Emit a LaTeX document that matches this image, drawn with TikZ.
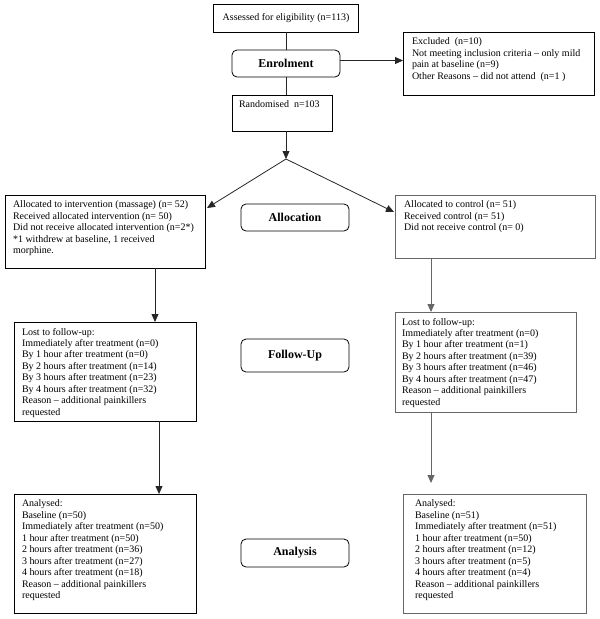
\documentclass[tikz,border=0pt]{standalone}
\usepackage{fontspec}
\setmainfont{Liberation Serif}
\usetikzlibrary{arrows.meta,calc}
\newcommand\bxt[3]{\parbox[c][#2pt][t]{#1pt}{\raggedright #3}}
\begin{document}
\begin{tikzpicture}[x=1pt,y=-1pt,
  every node/.style={font=\fontsize{10}{11.45}\selectfont},
  tbox/.style={draw, line width=0.8pt, anchor=north west, inner xsep=8pt, inner ysep=6pt, outer sep=0pt},
  gbox/.style={tbox, draw=black!60},
  stage/.style={draw, line width=0.8pt, rounded corners=5pt, font=\fontsize{12}{14}\selectfont\bfseries, inner sep=0pt, outer sep=0pt, minimum width=108pt},
  conn/.style={line width=0.8pt, draw=black!85},
  gconn/.style={line width=0.8pt, draw=black!60},
  tip/.style={-{Triangle[length=8pt,width=7pt]}}
]
\useasboundingbox (0,0) rectangle (600,619);

% enrolment
\node[tbox, anchor=center, inner sep=0pt, minimum width=145pt, minimum height=28pt] (assess) at (286,18) {Assessed for eligibility (n=113)};
\node[stage, minimum height=27pt] (enrol) at (286,63.5) {Enrolment};
\node[tbox, inner xsep=9pt] (excl) at (403,32) {\bxt{173}{51}{Excluded~ (n=10)\\Not meeting inclusion criteria -- only mild\\pain at baseline (n=9)\\Other Reasons -- did not attend~ (n=1 )}};
\node[tbox, inner xsep=7pt] (rand) at (232,95) {\bxt{86}{24}{Randomised~ n=103}};
\coordinate (apex) at (286,159);

% allocation
\node[tbox] (allocL) at (5,195) {\bxt{184}{61}{Allocated to intervention (massage) (n= 52)\\Received allocated intervention (n= 50)\\Did not receive allocated intervention (n=2*)\\{*}1 withdrew at baseline, 1 received\\morphine.}};
\node[stage, minimum height=27pt] (allocation) at (295,217.5) {Allocation};
\node[gbox, inner xsep=9pt] (allocR) at (395,195) {\bxt{182}{51}{Allocated to control (n= 51)\\Received control (n= 51)\\Did not receive control (n= 0)}};
\coordinate (tipL) at (207,208);
\coordinate (tipR) at (394,212);

% follow-up
\node[tbox] (lostL) at (14,322) {\bxt{166}{87}{Lost to follow-up:\\Immediately after treatment (n=0)\\By 1 hour after treatment (n=0)\\By 2 hours after treatment (n=14)\\By 3 hours after treatment (n=23)\\By 4 hours after treatment (n=32)\\Reason -- additional painkillers\\requested}};
\node[stage, minimum height=33pt] (followup) at (295,355.5) {Follow-Up};
\node[gbox, inner xsep=7pt] (lostR) at (395,312) {\bxt{167}{88}{Lost to follow-up:\\Immediately after treatment (n=0)\\By 1 hour after treatment (n=1)\\By 2 hours after treatment (n=39)\\By 3 hours after treatment (n=46)\\By 4 hours after treatment (n=47)\\Reason -- additional painkillers\\requested}};

% analysis
\node[tbox] (anaL) at (14,494) {\bxt{166}{107}{Analysed:\\Baseline (n=50)\\Immediately after treatment (n=50)\\1 hour after treatment (n=50)\\2 hours after treatment (n=36)\\3 hours after treatment (n=27)\\4 hours after treatment (n=18)\\Reason -- additional painkillers\\requested}};
\node[stage, minimum height=28pt] (analysis) at (295,553) {Analysis};
\node[gbox, inner xsep=12pt] (anaR) at (403,494) {\bxt{159}{107}{Analysed:\\Baseline (n=51)\\Immediately after treatment (n=51)\\1 hour after treatment (n=50)\\2 hours after treatment (n=12)\\3 hours after treatment (n=5)\\4 hours after treatment (n=4)\\Reason -- additional painkillers\\requested}};
\coordinate (tipRA) at (431,483);

% connectors
\draw[conn] (assess.south) -- (assess.south |- enrol.north);
\draw[conn] (enrol.south) -- (enrol.south |- rand.north);
\draw[conn, tip] ([yshift=3pt]enrol.east) -- ([yshift=3pt]enrol.east -| excl.west);
\draw[conn, tip] (rand.south -| apex) -- (apex);
\draw[conn, tip] (apex) -- (tipL);
\draw[conn, tip] (apex) -- (tipR);
\draw[conn, tip] ([xshift=50pt]allocL.south) -- ([xshift=50pt]allocL.south |- lostL.north);
\draw[conn, tip] ([xshift=54pt]lostL.south) -- ([xshift=54pt]lostL.south |- anaL.north);
\draw[gconn, tip] ([xshift=-64pt]allocR.south) -- ([xshift=-64pt]allocR.south |- lostR.north);
\draw[gconn, tip] (lostR.south -| tipRA) -- (tipRA);
\end{tikzpicture}
\end{document}
